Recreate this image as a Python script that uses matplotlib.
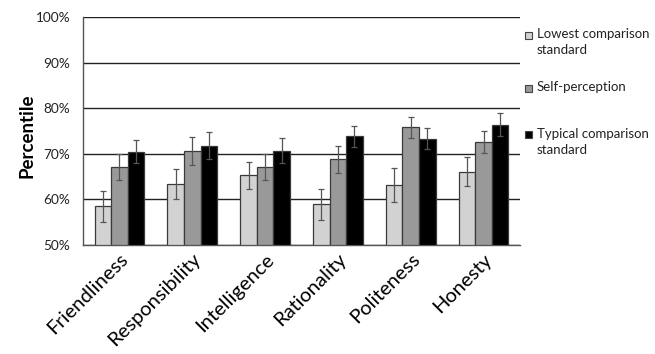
import matplotlib
matplotlib.use("Agg")
import matplotlib.pyplot as plt
from matplotlib.patches import Rectangle
import numpy as np

plt.rcParams['font.family'] = ['Lato', 'DejaVu Sans']

categories = ["Friendliness", "Responsibility", "Intelligence", "Rationality", "Politeness", "Honesty"]
series_names = ["Lowest comparison\nstandard", "Self-perception", "Typical comparison\nstandard"]
lowest = [58.5, 63.4, 65.3, 58.9, 63.2, 66.1]
self_perc = [67.1, 70.6, 67.1, 68.8, 75.8, 72.6]
typical = [70.5, 71.8, 70.7, 73.8, 73.3, 76.4]
lowest_err = [3.4, 3.3, 3.0, 3.4, 3.7, 3.2]
self_err = [2.9, 3.1, 2.9, 3.0, 2.3, 2.4]
typical_err = [2.6, 2.9, 2.7, 2.4, 2.3, 2.6]
yticks = [50, 60, 70, 80, 90, 100]

colors = ["#d2d2d2", "#999999", "#000000"]

fig = plt.figure(figsize=(6.55, 3.54), dpi=100)
ax = fig.add_axes([83/655, 1-245/354, (520-83)/655, (245-17)/354])

x = np.arange(len(categories))
w = 0.227
vals = [lowest, self_perc, typical]
errs = [lowest_err, self_err, typical_err]
for k in range(3):
    ax.bar(x + (k-1)*w, np.array(vals[k]) - 50, w, bottom=50, color=colors[k],
           edgecolor="#3a3a3a", linewidth=0.9, zorder=3)
    ax.errorbar(x + (k-1)*w, vals[k], yerr=errs[k], fmt='none', ecolor="#555555",
                elinewidth=0.9, capsize=2, capthick=0.9, zorder=4)

ax.set_xlim(-0.5, len(categories)-0.5)
ax.set_ylim(50, 100)
ax.set_yticks(yticks)
ax.set_yticklabels([f"{v}%" for v in yticks], fontsize=9.8, color="#222222")
ax.yaxis.grid(True, color="#222222", linewidth=1.0, zorder=0)
ax.set_axisbelow(True)
ax.tick_params(axis='y', length=0, pad=9)
ax.tick_params(axis='x', length=0, pad=4)
ax.set_xticks(x)
ax.set_xticklabels(categories, rotation=45, ha='right', rotation_mode='anchor', fontsize=14.5)
for s in ['top', 'right']:
    ax.spines[s].set_visible(False)
for s in ['left', 'bottom']:
    ax.spines[s].set_color("#555555")
    ax.spines[s].set_linewidth(1.0)
ax.set_ylabel("Percentile", fontsize=13.5, fontweight='bold')
ax.yaxis.set_label_coords(-0.108, 0.48)

# legend (manual, Excel-style)
leg_y = [35, 88, 135]
for k in range(3):
    yy = leg_y[k]
    fig.patches.append(Rectangle((525/655, 1-(yy+3.5)/354), 7/655, 7/354,
                                 transform=fig.transFigure, facecolor=colors[k],
                                 edgecolor="#444444", linewidth=0.8))
    fig.text(537/655, 1-(yy-7)/354, series_names[k], fontsize=9.5, va='top', ha='left',
             linespacing=1.35, color="#222222")

fig.savefig("out.png", dpi=100)
